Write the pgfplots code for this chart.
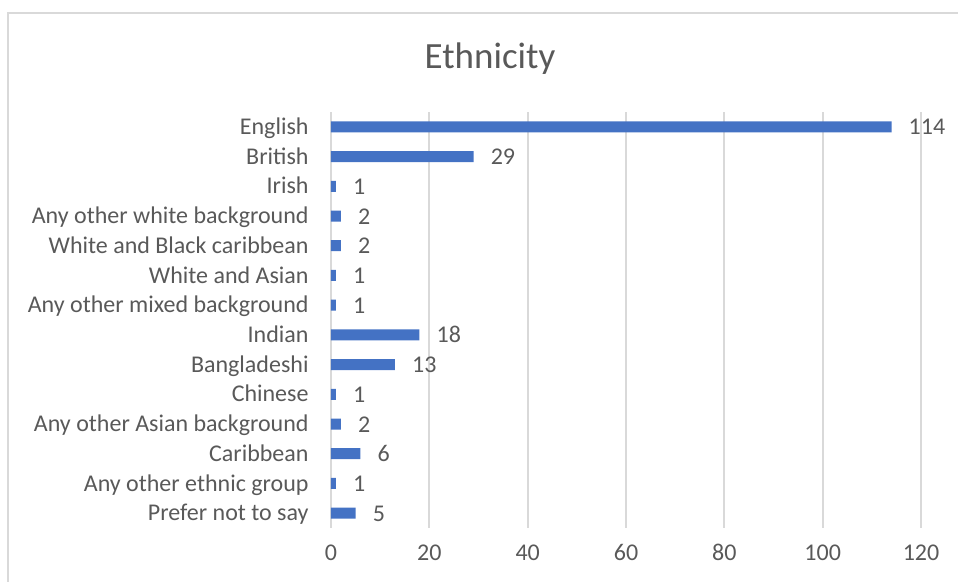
\documentclass[border=0pt]{standalone}
\usepackage{pgfplots}
\pgfplotsset{compat=1.18}
\usepackage{fontspec}
\setmainfont{Carlito}
\definecolor{barblue}{HTML}{4472C4}
\definecolor{txtgray}{HTML}{595959}
\definecolor{gridgray}{HTML}{D9D9D9}
\begin{document}
\begin{tikzpicture}
\useasboundingbox (-331bp,-54bp) rectangle (627bp,528bp);
\draw[gridgray, line width=2bp] (-323bp,-60bp) -- (-323bp,515bp) -- (640bp,515bp);
\begin{axis}[
  at={(0,0)}, anchor=south west,
  scale only axis, width=590bp, height=416bp,
  xbar, bar width=11bp,
  xmin=0, xmax=120, ymin=-0.5, ymax=13.5, y dir=reverse,
  xtick={0,20,...,120}, ytick={0,...,13},
  yticklabels={English,British,Irish,Any other white background,White and Black caribbean,White and Asian,Any other mixed background,Indian,Bangladeshi,Chinese,Any other Asian background,Caribbean,Any other ethnic group,Prefer not to say},
  /pgf/number format/assume math mode=true,
  axis line style={draw=none},
  tick style={draw=none},
  xmajorgrids, grid style={gridgray, line width=1.8bp},
  ticklabel style={font=\fontsize{24bp}{28bp}\selectfont, text=txtgray, inner sep=0pt},
  yticklabel style={anchor=east, xshift=-18bp, text height=15.4bp, text depth=0pt},
  xticklabel style={anchor=north, yshift=-17.5bp, text height=15.2bp, text depth=0pt},
  nodes near coords,
  nodes near coords style={anchor=west, inner sep=0pt, xshift=17bp, font=\fontsize{24bp}{28bp}\selectfont, text=txtgray, text height=15.2bp, text depth=0pt, yshift=-0.5bp},
]
\addplot[fill=barblue, draw=none] table[x=v, y=i] {
i v
0 114
1 29
2 1
3 2
4 2
5 1
6 1
7 18
8 13
9 1
10 2
11 6
12 1
13 5
};
\end{axis}
\node[anchor=center, inner sep=0pt, text height=23.8bp, text depth=0pt, font=\fontsize{37bp}{40bp}\selectfont, text=txtgray] at (159bp,471.5bp) {Ethnicity};
\end{tikzpicture}
\end{document}
